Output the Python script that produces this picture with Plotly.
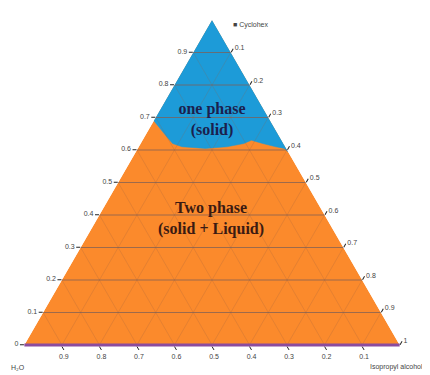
"""Ternary phase diagram: one phase (solid) vs two phase (solid + liquid)."""
import plotly.graph_objects as go

# corner names
apex_name = "Cyclohex"
left_name = "H₂O"
right_name = "Isopropyl alcohol"

# phase boundary (left edge -> right edge)
bound_a = [0.69, 0.64, 0.62, 0.61, 0.605, 0.61, 0.62, 0.63, 0.62, 0.61, 0.605, 0.595]
bound_c = [0.0, 0.06, 0.085, 0.115, 0.18, 0.235, 0.275, 0.29, 0.325, 0.365, 0.39, 0.405]
bound_b = [round(1 - a - c, 3) for a, c in zip(bound_a, bound_c)]

# whole triangle (two phase region background)
tri_a = [1, 0, 0, 1]
tri_b = [0, 1, 0, 0]
tri_c = [0, 0, 1, 0]

# grid / tick levels
levels = [0.1, 0.2, 0.3, 0.4, 0.5, 0.6, 0.7, 0.8, 0.9]

# region labels: (text, a, b, c)
one_label = ("<b>one phase<br>(solid)</b>", 0.69, 0.155, 0.155)
two_label = ("<b>Two phase<br>(solid + Liquid)</b>", 0.385, 0.31, 0.305)

ORANGE = "#FB8A2C"
BLUE = "#1D9BD8"

fig = go.Figure()

# two phase background
fig.add_trace(go.Scatterternary(
    a=tri_a, b=tri_b, c=tri_c, mode="lines", fill="toself",
    fillcolor=ORANGE, line=dict(color=ORANGE, width=0),
))

# one phase region: apex + boundary
blue_a = [1] + bound_a + [1]
blue_b = [0] + bound_b + [0]
blue_c = [0] + bound_c + [0]
fig.add_trace(go.Scatterternary(
    a=blue_a, b=blue_b, c=blue_c, mode="lines", fill="toself",
    fillcolor=BLUE, line=dict(color=BLUE, width=0.5),
))

# faint diagonal grid (b and c constant)
for t in levels:
    fig.add_trace(go.Scatterternary(
        a=[0, 1 - t], b=[t, t], c=[1 - t, 0], mode="lines",
        line=dict(color="rgba(150,95,70,0.22)", width=1),
    ))
    fig.add_trace(go.Scatterternary(
        a=[0, 1 - t], b=[1 - t, 0], c=[t, t], mode="lines",
        line=dict(color="rgba(150,95,70,0.22)", width=1),
    ))

# horizontal grid (a constant), darker
for t in levels:
    fig.add_trace(go.Scatterternary(
        a=[t, t], b=[1 - t, 0], c=[0, 1 - t], mode="lines",
        line=dict(color="rgba(125,95,85,0.75)", width=1),
    ))

# region texts
fig.add_trace(go.Scatterternary(
    a=[one_label[1]], b=[one_label[2]], c=[one_label[3]], mode="text",
    text=[one_label[0]],
    textfont=dict(family="Liberation Serif", size=16, color="#1b1f4e"),
))
fig.add_trace(go.Scatterternary(
    a=[two_label[1]], b=[two_label[2]], c=[two_label[3]], mode="text",
    text=[two_label[0]],
    textfont=dict(family="Liberation Serif", size=16, color="#3b1a12"),
))

tickfont = dict(family="Liberation Sans", size=7, color="#444")
axis_common = dict(
    showgrid=False, ticks="outside", ticklen=4, tickcolor="#222",
    tickfont=tickfont, title=dict(text=""),
)

corner_font = dict(family="Liberation Sans", size=7, color="#444")

fig.update_layout(
    width=430, height=375,
    margin=dict(l=10, r=32, t=12, b=38),
    paper_bgcolor="white",
    showlegend=False,
    hovermode=False,
    font=dict(family="Liberation Serif"),
    ternary=dict(
        sum=1,
        bgcolor="white",
        aaxis=dict(tickvals=[0] + levels, showline=False, **axis_common),
        baxis=dict(tickvals=levels, showline=True, linecolor="#8B4C9E",
                   linewidth=3, **axis_common),
        caxis=dict(tickvals=levels + [1], showline=False, **axis_common),
    ),
    annotations=[
        dict(text="■ " + apex_name, xref="paper", yref="paper",
             x=0.55, y=0.985, xanchor="left", yanchor="middle",
             showarrow=False, font=corner_font),
        dict(text=left_name, xref="paper", yref="paper",
             x=0.0, y=-0.068, xanchor="center", yanchor="middle",
             showarrow=False, font=corner_font),
        dict(text=right_name, xref="paper", yref="paper",
             x=1.05, y=-0.068, xanchor="right", yanchor="middle",
             showarrow=False, font=corner_font),
    ],
)

fig.write_html("out.html")
